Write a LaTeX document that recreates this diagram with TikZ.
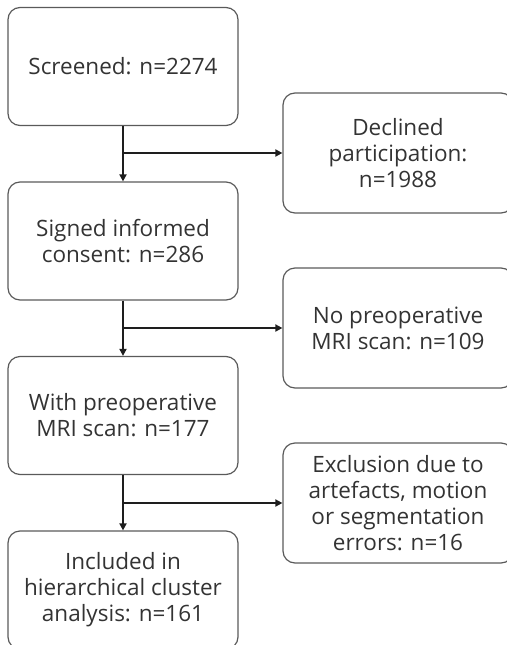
\documentclass[tikz,border=0pt]{standalone}
\usepackage{fontspec}
\setmainfont{Open Sans}
\usetikzlibrary{arrows.meta}
\definecolor{boxline}{HTML}{5A5A5A}
\definecolor{txt}{HTML}{333333}
\definecolor{arrowline}{HTML}{1E1E1E}
\begin{document}
\begin{tikzpicture}[x=1pt,y=-1pt,
  flowbox/.style={draw=boxline,line width=1.2pt,rounded corners=12pt,
    minimum width=230pt,minimum height=118pt,align=center,text=txt,
    font=\fontsize{22.5}{26}\selectfont,inner sep=0pt},
  sidebox/.style={flowbox,minimum height=120pt},
  flow/.style={draw=arrowline,line width=1.7pt,
    -{Triangle[length=7pt,width=7pt]}}]
\useasboundingbox (0,0) rectangle (506,645);

% main column
\node[flowbox] (screen)  at (123,66.5) {Screened: n=2274};
\node[flowbox] (consent) at (123,241)  {Signed informed\\consent: n=286};
\node[flowbox] (mri)     at (123,415.5){With preoperative\\MRI scan: n=177};
\node[flowbox] (incl)    at (123,590)  {Included in\\hierarchical cluster\\analysis: n=161};

% exclusions
\node[sidebox] (decl) at (398,153) {Declined\\participation:\\n=1988};
\node[sidebox] (nomri) at (398,328) {No preoperative\\MRI scan: n=109};
\node[sidebox] (excl) at (398,503) {Exclusion due to\\artefacts, motion\\or segmentation\\errors: n=16};

% branch points on the main line
\coordinate (b1) at (123,153);
\coordinate (b2) at (123,328);
\coordinate (b3) at (123,503);

\draw[flow] (screen.south) -- (consent.north);
\draw[flow] (consent.south) -- (mri.north);
\draw[flow] (mri.south) -- (incl.north);
\draw[flow] (b1) -- (decl.west);
\draw[flow] (b2) -- (nomri.west);
\draw[flow] (b3) -- (excl.west);
\end{tikzpicture}
\end{document}
